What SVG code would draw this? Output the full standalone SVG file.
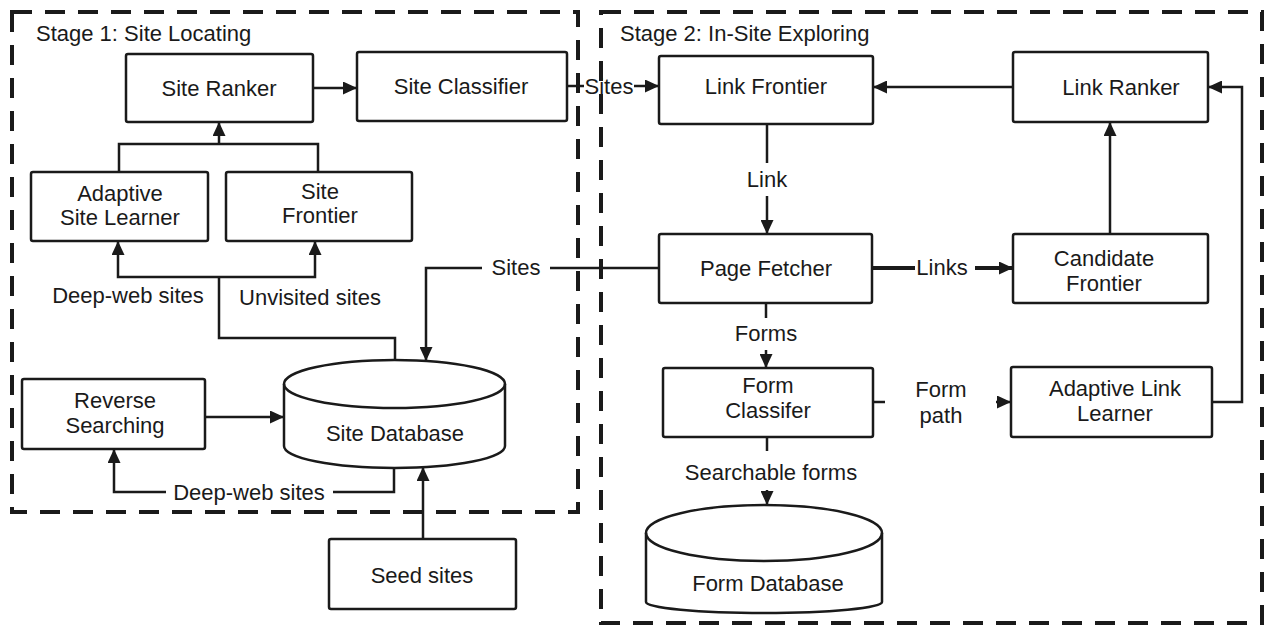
<svg xmlns="http://www.w3.org/2000/svg" width="1267" height="628" viewBox="0 0 1267 628">
  <style>
    text { font-family: "Liberation Sans", Arial, sans-serif; font-size: 22px; fill: #1a1a1a; }
    .c { text-anchor: middle; dominant-baseline: central; }
    .l { dominant-baseline: central; }
    .box { fill: #fff; stroke: #1a1a1a; stroke-width: 2.5; }
    .stage { fill: none; stroke: #1a1a1a; stroke-width: 4; stroke-dasharray: 20 13; }
    .edge { fill: none; stroke: #1a1a1a; stroke-width: 2.5; }
    .thick { stroke-width: 4; }
  </style>
  <defs>
    <marker id="arrow" markerUnits="userSpaceOnUse" markerWidth="14" markerHeight="13" refX="14" refY="6.5" orient="auto">
      <path d="M0,0 L14,6.5 L0,13 z" fill="#1a1a1a"/>
    </marker>
  </defs>

  <rect width="1267" height="628" fill="#fff"/>

  <!-- stage frames -->
  <g id="stage1">
    <rect class="stage" x="12" y="12" width="566" height="500"/>
    <text class="l" x="36" y="33">Stage 1: Site Locating</text>
  </g>
  <g id="stage2">
    <rect class="stage" x="601" y="12" width="661" height="611"/>
    <text class="l" x="620" y="33">Stage 2: In-Site Exploring</text>
  </g>

  <!-- connectors -->
  <g id="connectors">
    <path class="edge" d="M313,88 H357" marker-end="url(#arrow)"/>
    <path class="edge" d="M567,86 H584"/>
    <path class="edge" d="M634,86 H659" marker-end="url(#arrow)"/>
    <text class="c" x="609" y="86" font-size="21">Sites</text>

    <path class="edge" d="M119,172 V144 H318 V172"/>
    <path class="edge" d="M219,144 V122" marker-end="url(#arrow)"/>

    <path class="edge" d="M395,360 V338 H219 V277"/>
    <path class="edge" d="M219,277 H118 V241" marker-end="url(#arrow)"/>
    <path class="edge" d="M219,277 H315 V241" marker-end="url(#arrow)"/>
    <text class="c" x="128" y="295">Deep-web sites</text>
    <text class="c" x="310" y="297">Unvisited sites</text>

    <path class="edge" d="M659,268 H550"/>
    <path class="edge" d="M482,268 H426 V361" marker-end="url(#arrow)"/>
    <text class="c" x="516" y="267">Sites</text>

    <path class="edge" d="M205,417 H284" marker-end="url(#arrow)"/>

    <path class="edge" d="M394,468 V492 H333"/>
    <path class="edge" d="M166,492 H114 V449" marker-end="url(#arrow)"/>
    <text class="c" x="249" y="492">Deep-web sites</text>

    <path class="edge" d="M423,539 V467" marker-end="url(#arrow)"/>

    <path class="edge" d="M1013,87 H873" marker-end="url(#arrow)"/>
    <path class="edge" d="M1110,234 V122" marker-end="url(#arrow)"/>
    <path class="edge" d="M1212,402 H1242 V87 H1208" marker-end="url(#arrow)"/>

    <path class="edge" d="M767,124 V163"/>
    <path class="edge" d="M767,196 V234" marker-end="url(#arrow)"/>
    <text class="c" x="767" y="179">Link</text>

    <path class="edge thick" d="M872,268 H915"/>
    <path class="edge thick" d="M975,268 H1013" marker-end="url(#arrow)"/>
    <text class="c" x="942" y="267">Links</text>

    <path class="edge" d="M766,303 V318"/>
    <path class="edge" d="M766,350 V368" marker-end="url(#arrow)"/>
    <text class="c" x="766" y="333">Forms</text>

    <path class="edge" d="M873,402 H885"/>
    <path class="edge" d="M996,402 H1011" marker-end="url(#arrow)"/>
    <text class="c" x="941" y="389">Form</text>
    <text class="c" x="941" y="415">path</text>

    <path class="edge" d="M767,437 V451"/>
    <path class="edge" d="M767,490 V505" marker-end="url(#arrow)"/>
    <text class="c" x="771" y="472">Searchable forms</text>
  </g>

  <!-- nodes -->
  <g id="site-ranker">
    <rect class="box" x="126" y="54" width="187" height="68" rx="2"/>
    <text class="c" x="219" y="88">Site Ranker</text>
  </g>
  <g id="site-classifier">
    <rect class="box" x="357" y="52" width="210" height="69" rx="2"/>
    <text class="c" x="461" y="86">Site Classifier</text>
  </g>
  <g id="adaptive-site-learner">
    <rect class="box" x="31" y="172" width="177" height="69" rx="2"/>
    <text class="c" x="120" y="193">Adaptive</text>
    <text class="c" x="120" y="217">Site Learner</text>
  </g>
  <g id="site-frontier">
    <rect class="box" x="226" y="172" width="186" height="69" rx="2"/>
    <text class="c" x="320" y="191">Site</text>
    <text class="c" x="320" y="215">Frontier</text>
  </g>
  <g id="reverse-searching">
    <rect class="box" x="22" y="379" width="183" height="70" rx="2"/>
    <text class="c" x="115" y="400">Reverse</text>
    <text class="c" x="115" y="425">Searching</text>
  </g>
  <g id="site-database">
    <path class="box" d="M284,384 A110.5,24 0 0 1 505,384 L505,446 A110.5,22 0 0 1 284,446 Z"/>
    <path class="edge" d="M284,384 A110.5,24 0 0 0 505,384"/>
    <text class="c" x="395" y="433">Site Database</text>
  </g>
  <g id="seed-sites">
    <rect class="box" x="329" y="539" width="187" height="70" rx="2"/>
    <text class="c" x="422" y="575">Seed sites</text>
  </g>
  <g id="link-frontier">
    <rect class="box" x="659" y="56" width="214" height="68" rx="2"/>
    <text class="c" x="766" y="86">Link Frontier</text>
  </g>
  <g id="link-ranker">
    <rect class="box" x="1013" y="52" width="195" height="70" rx="2"/>
    <text class="c" x="1121" y="87">Link Ranker</text>
  </g>
  <g id="page-fetcher">
    <rect class="box" x="659" y="234" width="213" height="69" rx="2"/>
    <text class="c" x="766" y="268">Page Fetcher</text>
  </g>
  <g id="candidate-frontier">
    <rect class="box" x="1013" y="234" width="195" height="69" rx="2"/>
    <text class="c" x="1104" y="258">Candidate</text>
    <text class="c" x="1104" y="283">Frontier</text>
  </g>
  <g id="form-classifier">
    <rect class="box" x="663" y="368" width="210" height="69" rx="2"/>
    <text class="c" x="768" y="385">Form</text>
    <text class="c" x="768" y="410">Classifer</text>
  </g>
  <g id="adaptive-link-learner">
    <rect class="box" x="1011" y="367" width="201" height="70" rx="2"/>
    <text class="c" x="1115" y="388">Adaptive Link</text>
    <text class="c" x="1115" y="413">Learner</text>
  </g>
  <g id="form-database">
    <path class="box" d="M646,533 A118,28 0 0 1 882,533 L882,602 A118,11 0 0 1 646,602 Z"/>
    <path class="edge" d="M646,533 A118,28 0 0 0 882,533"/>
    <text class="c" x="768" y="583">Form Database</text>
  </g>
</svg>
